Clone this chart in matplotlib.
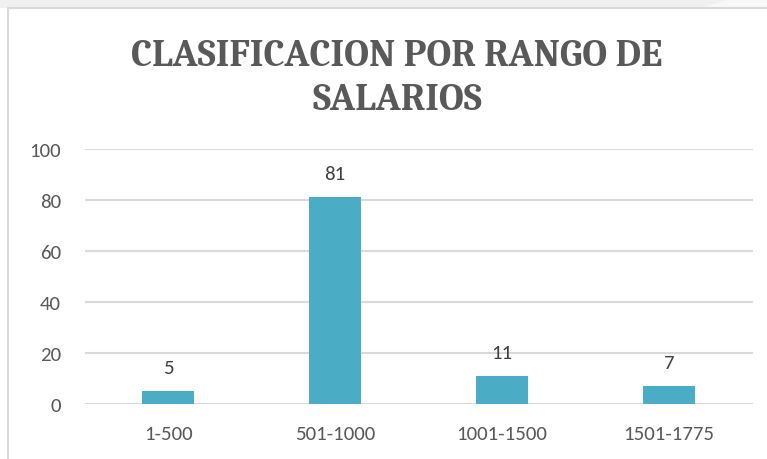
import matplotlib
matplotlib.use("Agg")
import matplotlib.pyplot as plt
from matplotlib.patches import Rectangle, Polygon

categories = ["1-500", "501-1000", "1001-1500", "1501-1775"]
values = [5, 81, 11, 7]
yticks = [0, 20, 40, 60, 80, 100]
title_lines = ["CLASIFICACION POR RANGO DE", "SALARIOS"]

W, H = 767, 460
fig = plt.figure(figsize=(W / 100, H / 100), dpi=100)
fig.patch.set_facecolor("white")

# top grey strip and chart frame
fig.patches.append(Rectangle((0, 1 - 9 / H), 1, 9 / H, transform=fig.transFigure,
                             facecolor="#f0f0f0", edgecolor="none", zorder=0))
fig.patches.append(Polygon([(730 / W, 1), (1, 1), (1, 1 - 9 / H), (700 / W, 1 - 9 / H)],
                           closed=True, transform=fig.transFigure,
                           facecolor="#f8f8f8", edgecolor="none", zorder=0))
fig.patches.append(Rectangle((8 / W, -0.1), 1.0, 1 - 9 / H + 0.1, transform=fig.transFigure,
                             facecolor="white", edgecolor="#d9d9d9", linewidth=1.5, zorder=1))

left, right = 84.5 / W, 752.5 / W
bottom, top = 1 - 405 / H, 1 - 150 / H
ax = fig.add_axes([left, bottom, right - left, top - bottom])
ax.set_facecolor("none")
ax.set_zorder(2)

x = list(range(len(categories)))
bars = ax.bar(x, values, width=0.31, color="#4bacc6", zorder=3)
ax.set_xlim(-0.5, len(categories) - 0.5)
ax.set_ylim(0, 100)
ax.set_yticks(yticks)
ax.set_xticks(x)
ax.set_xticklabels(categories)
ax.grid(axis="y", color="#d9d9d9", linewidth=1.5, zorder=0)
ax.set_axisbelow(True)
for s in ax.spines.values():
    s.set_visible(False)
ax.tick_params(axis="both", length=0, labelsize=15, labelcolor="#595959")
ax.tick_params(axis="y", pad=17)
ax.tick_params(axis="x", pad=15)
for lbl in ax.get_xticklabels() + ax.get_yticklabels():
    lbl.set_family(["Carlito", "DejaVu Sans"])

for xi, v in zip(x, values):
    ax.annotate(str(v), (xi, v), xytext=(0, 11), textcoords="offset points",
                ha="center", va="bottom", fontsize=15, color="#404040",
                family=["Carlito", "DejaVu Sans"])

for line, yb in zip(title_lines, [66, 110]):
    fig.text(397 / W, 1 - yb / H, line, ha="center", va="baseline", fontsize=27.5,
             fontweight="bold", family=["Caladea", "DejaVu Serif"], color="#595959")

fig.savefig("out.png", dpi=100, facecolor="white")
